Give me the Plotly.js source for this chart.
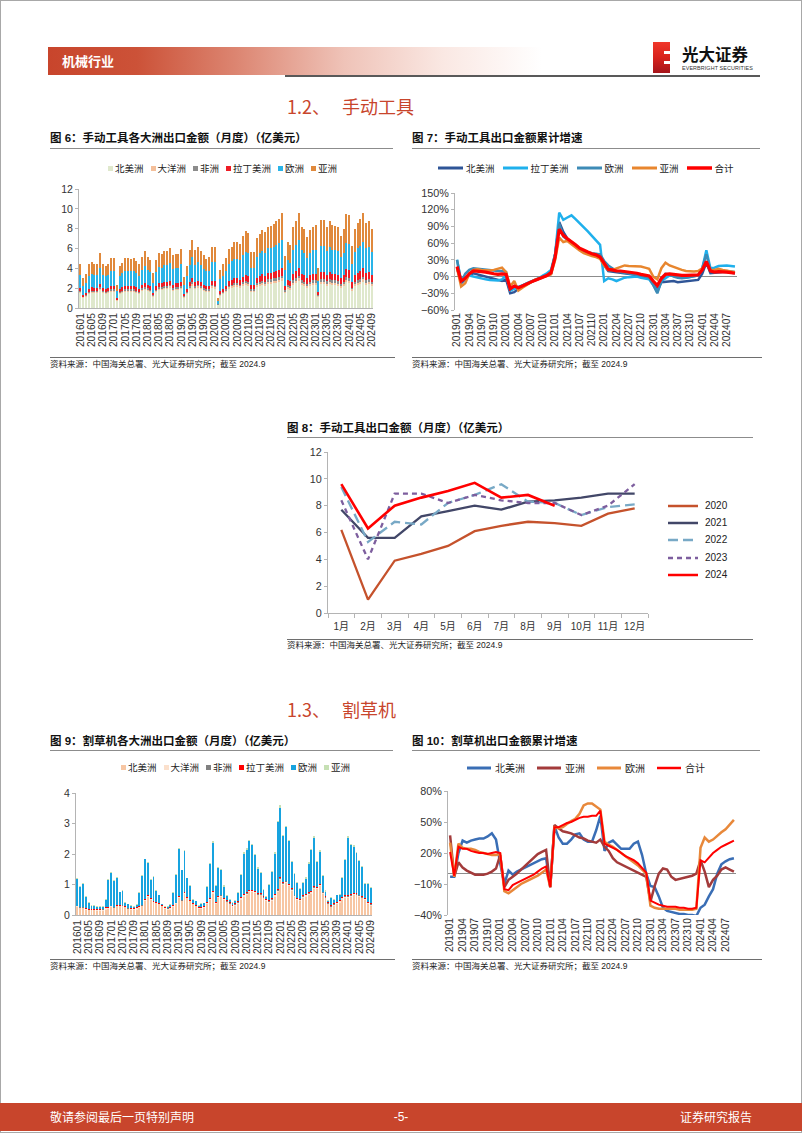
<!DOCTYPE html>
<html lang="zh-CN">
<head>
<meta charset="utf-8">
<title>机械行业</title>
<script src="https://cdn.plot.ly/plotly-3.0.1.min.js"></script>
<style>
html,body{margin:0;padding:0;background:#fff;}
#page{position:relative;width:802px;height:1133px;overflow:hidden;background:#fff;box-shadow:inset 0 0 0 1px #a8a8a8;font-family:'Liberation Sans','Noto Sans CJK SC',sans-serif;color:#222;}
.abs{position:absolute;}
.ttl{position:absolute;font-size:11.5px;font-weight:bold;white-space:nowrap;line-height:14px;color:#111;font-family:'Liberation Sans','Noto Sans CJK SC',sans-serif;}
.src{position:absolute;font-size:8.5px;white-space:nowrap;line-height:10px;color:#222;}
.hl{position:absolute;height:1px;background:#8c8c8c;}
.sl{position:absolute;height:1px;background:#6e6e6e;}
.sec{position:absolute;font-size:18px;color:#c8452c;white-space:nowrap;line-height:22px;font-family:'Noto Sans CJK SC',sans-serif;}
.leg{position:absolute;display:flex;align-items:center;white-space:nowrap;line-height:12px;color:#222;font-family:'Noto Sans CJK SC',sans-serif;}
.it{display:flex;align-items:center;}
.sq{display:inline-block;width:5px;height:5px;margin-right:2px;}
.chart{position:absolute;}
</style>
</head>
<body>
<div id="page">
  <!-- header -->
  <div class="abs" style="left:48px;top:47px;width:494px;height:28px;background:linear-gradient(90deg,#c8452c 0%,#cc5238 18%,#dc8571 38%,#efc3b8 60%,#fae8e3 80%,rgba(255,255,255,0) 100%);"></div>
  <div class="abs" style="left:62px;top:52px;font-size:13px;font-weight:bold;color:#fff;line-height:18px;font-family:'Noto Sans CJK SC',sans-serif;">机械行业</div>
  <div class="abs" style="left:285px;top:75px;width:475px;height:2px;background:#595959;"></div>
  <div class="abs" style="left:653px;top:42px;width:17px;height:31px;background:linear-gradient(180deg,#f0372a 0%,#d8231d 50%,#a5151b 100%);"></div>
  <div class="abs" style="left:664px;top:51px;width:6px;height:3px;background:#fff;"></div>
  <div class="abs" style="left:664px;top:61px;width:6px;height:3px;background:#fff;"></div>
  <div class="abs" style="left:682px;top:45px;font-size:16.5px;font-weight:bold;color:#111;line-height:19px;font-family:'Noto Sans CJK SC',sans-serif;">光大证券</div>
  <div class="abs" style="left:682px;top:65px;font-size:5.4px;color:#333;line-height:7px;letter-spacing:0.1px;">EVERBRIGHT SECURITIES</div>

  <!-- section 1.2 -->
  <div class="sec" style="left:287px;top:95px;">1.2、<span style="margin-left:12px;">手动工具</span></div>

  <!-- fig 6 -->
  <div class="ttl" style="left:50px;top:131px;">图 6：手动工具各大洲出口金额（月度）（亿美元）</div>
  <div class="hl" style="left:50px;top:148px;width:343px;"></div>
  <div class="leg" id="leg6" style="left:108px;top:162px;font-size:9.5px;"></div>
  <div class="chart" id="c6" style="left:40px;top:180px;width:345px;height:180px;"></div>
  <div class="sl" style="left:50px;top:357px;width:345px;"></div>
  <div class="src" style="left:50px;top:359px;">资料来源：中国海关总署、光大证券研究所；截至 2024.9</div>

  <!-- fig 7 -->
  <div class="ttl" style="left:412px;top:131px;">图 7：手动工具出口金额累计增速</div>
  <div class="hl" style="left:412px;top:148px;width:348px;"></div>
  <div class="leg" id="leg7" style="left:438px;top:162px;font-size:9.5px;"></div>
  <div class="chart" id="c7" style="left:405px;top:185px;width:360px;height:175px;"></div>
  <div class="sl" style="left:412px;top:357px;width:350px;"></div>
  <div class="src" style="left:412px;top:359px;">资料来源：中国海关总署、光大证券研究所；截至 2024.9</div>

  <!-- fig 8 -->
  <div class="ttl" style="left:287px;top:421px;">图 8：手动工具出口金额（月度）（亿美元）</div>
  <div class="hl" style="left:287px;top:437px;width:466px;"></div>
  <div class="chart" id="c8" style="left:285px;top:445px;width:380px;height:190px;"></div>
  <div class="leg" id="leg8" style="left:668px;top:497px;font-size:10px;flex-direction:column;align-items:flex-start;"></div>
  <div class="sl" style="left:287px;top:639px;width:466px;"></div>
  <div class="src" style="left:287px;top:640px;">资料来源：中国海关总署、光大证券研究所；截至 2024.9</div>

  <!-- section 1.3 -->
  <div class="sec" style="left:287px;top:698px;">1.3、<span style="margin-left:12px;">割草机</span></div>

  <!-- fig 9 -->
  <div class="ttl" style="left:50px;top:734px;">图 9：割草机各大洲出口金额（月度）（亿美元）</div>
  <div class="hl" style="left:50px;top:750px;width:343px;"></div>
  <div class="leg" id="leg9" style="left:121px;top:761px;font-size:9.5px;"></div>
  <div class="chart" id="c9" style="left:40px;top:785px;width:345px;height:175px;"></div>
  <div class="sl" style="left:50px;top:959px;width:345px;"></div>
  <div class="src" style="left:50px;top:961px;">资料来源：中国海关总署、光大证券研究所；截至 2024.9</div>

  <!-- fig 10 -->
  <div class="ttl" style="left:412px;top:734px;">图 10：割草机出口金额累计增速</div>
  <div class="hl" style="left:412px;top:750px;width:348px;"></div>
  <div class="leg" id="leg10" style="left:467px;top:762px;font-size:10px;"></div>
  <div class="chart" id="c10" style="left:405px;top:783px;width:360px;height:177px;"></div>
  <div class="sl" style="left:412px;top:959px;width:350px;"></div>
  <div class="src" style="left:412px;top:961px;">资料来源：中国海关总署、光大证券研究所；截至 2024.9</div>

  <!-- footer -->
  <div class="abs" style="left:0px;top:1103px;width:802px;height:28px;background:#c8452c;"></div>
  <div class="abs" style="left:50px;top:1109px;font-size:12px;color:#fff;line-height:16px;font-family:'Noto Sans CJK SC',sans-serif;">敬请参阅最后一页特别声明</div>
  <div class="abs" style="left:391px;top:1109px;width:20px;text-align:center;font-size:12px;color:#fff;line-height:16px;">-5-</div>
  <div class="abs" style="left:680px;top:1109px;width:72px;text-align:right;font-size:12px;color:#fff;line-height:16px;font-family:'Noto Sans CJK SC',sans-serif;">证券研究报告</div>
</div>

<script>
// ---------- categories & tick labels ----------
const months = [
'201601','201602','201603','201604','201605','201606','201607','201608','201609','201610','201611','201612',
'201701','201702','201703','201704','201705','201706','201707','201708','201709','201710','201711','201712',
'201801','201802','201803','201804','201805','201806','201807','201808','201809','201810','201811','201812',
'201901','201902','201903','201904','201905','201906','201907','201908','201909','201910','201911','201912',
'202001','202002','202003','202004','202005','202006','202007','202008','202009','202010','202011','202012',
'202101','202102','202103','202104','202105','202106','202107','202108','202109','202110','202111','202112',
'202201','202202','202203','202204','202205','202206','202207','202208','202209','202210','202211','202212',
'202301','202302','202303','202304','202305','202306','202307','202308','202309','202310','202311','202312',
'202401','202402','202403','202404','202405','202406','202407','202408','202409'];
const months19 = months.slice(36);
const ticks16 = ['201601','201605','201609','201701','201705','201709','201801','201805','201809','201901','201905','201909','202001','202005','202009','202101','202105','202109','202201','202205','202209','202301','202305','202309','202401','202405','202409'];
const ticks19 = ['201901','201904','201907','201910','202001','202004','202007','202010','202101','202104','202107','202110','202201','202204','202207','202210','202301','202304','202307','202310','202401','202404','202407'];
const monthNames = ['1月','2月','3月','4月','5月','6月','7月','8月','9月','10月','11月','12月'];

// ---------- Fig 6: hand tools monthly exports by continent (亿美元) ----------
const regions6 = ['北美洲','大洋洲','非洲','拉丁美洲','欧洲','亚洲'];
const na6 = [
1.5,1.0,1.1,1.4,1.5,1.5,1.5,1.8,1.5,1.4,1.5,1.6,
1.6,0.7,1.4,1.5,1.6,1.6,1.6,1.6,1.5,1.4,1.7,1.8,
1.7,1.6,1.1,1.6,1.8,1.8,1.9,1.9,2.0,1.7,1.8,1.8,
1.9,1.0,1.4,1.9,2.2,1.9,2.0,1.9,1.7,1.6,1.6,2.0,
1.9,0.3,1.2,1.4,1.6,1.9,2.0,2.1,2.1,2.0,2.2,2.3,
2.2,1.6,1.6,2.1,2.2,2.3,2.2,2.4,2.4,2.5,2.5,2.6,
2.7,1.5,1.9,1.8,2.3,2.5,2.7,2.3,2.2,2.0,2.2,2.3,
2.3,1.1,2.4,2.4,2.2,2.4,2.3,2.3,2.2,2.0,2.2,2.6,
2.5,1.7,2.2,2.3,2.4,2.6,2.3,2.4,2.2];
const oc6 = [
.12,.08,.1,.12,.13,.12,.12,.14,.12,.12,.13,.14,
.14,.06,.12,.13,.14,.14,.14,.14,.13,.12,.14,.16,
.14,.13,.1,.13,.15,.15,.16,.16,.17,.15,.15,.15,
.16,.09,.12,.16,.19,.16,.17,.16,.15,.14,.14,.17,
.17,.03,.1,.12,.14,.17,.18,.19,.19,.18,.2,.22,
.22,.16,.16,.2,.22,.23,.22,.24,.24,.25,.26,.26,
.28,.15,.2,.19,.24,.26,.28,.24,.23,.21,.23,.24,
.24,.12,.26,.26,.24,.25,.24,.24,.24,.21,.23,.27,
.27,.18,.23,.25,.26,.28,.25,.25,.23];
const af6 = [
.12,.08,.1,.12,.12,.12,.12,.14,.12,.11,.12,.14,
.14,.06,.12,.13,.14,.14,.14,.14,.13,.12,.14,.16,
.14,.13,.1,.13,.15,.15,.16,.16,.17,.15,.15,.15,
.16,.09,.12,.16,.19,.16,.17,.16,.15,.14,.14,.17,
.17,.03,.1,.12,.14,.17,.18,.19,.19,.18,.2,.22,
.22,.16,.16,.2,.22,.23,.22,.24,.24,.25,.26,.26,
.28,.15,.2,.19,.24,.26,.28,.24,.23,.21,.23,.24,
.24,.12,.26,.26,.24,.25,.24,.24,.24,.21,.23,.27,
.27,.18,.23,.25,.26,.28,.25,.25,.23];
const la6 = [
.3,.2,.25,.3,.32,.3,.3,.38,.3,.28,.3,.35,
.35,.15,.3,.32,.36,.35,.35,.35,.33,.3,.36,.4,
.36,.34,.25,.34,.4,.38,.4,.4,.43,.37,.38,.38,
.4,.22,.3,.4,.48,.4,.43,.4,.37,.34,.36,.43,
.45,.07,.28,.32,.36,.44,.46,.5,.5,.48,.54,.58,
.6,.45,.45,.57,.6,.63,.62,.66,.66,.68,.7,.72,
.75,.42,.53,.5,.65,.7,.76,.65,.63,.57,.62,.65,
.66,.32,.7,.7,.65,.7,.66,.66,.65,.58,.63,.75,
.8,.55,.7,.75,.78,.84,.75,.77,.7];
const eu6 = [
1.3,0.9,1.0,1.3,1.4,1.3,1.3,1.6,1.3,1.3,1.3,1.5,
1.5,0.7,1.3,1.4,1.5,1.5,1.5,1.5,1.4,1.3,1.5,1.7,
1.5,1.4,1.0,1.4,1.6,1.6,1.7,1.7,1.8,1.6,1.6,1.6,
1.8,0.9,1.3,1.7,2.1,1.7,1.9,1.7,1.6,1.5,1.5,1.9,
1.9,0.3,1.2,1.3,1.5,1.8,1.9,2.0,2.0,2.0,2.2,2.3,
2.3,1.7,1.7,2.1,2.3,2.4,2.3,2.5,2.5,2.5,2.6,2.7,
2.8,1.6,2.0,1.9,2.4,2.6,2.8,2.4,2.3,2.1,2.3,2.4,
2.4,1.1,2.6,2.6,2.4,2.6,2.4,2.4,2.4,2.1,2.3,2.7,
2.6,1.8,2.3,2.5,2.6,2.7,2.5,2.5,2.3];
const as6 = [
1.06,0.74,0.85,1.16,1.13,1.06,1.06,1.44,1.06,0.99,1.05,1.27,
1.27,0.63,0.96,1.02,1.26,1.27,1.17,1.27,1.21,1.16,1.26,1.48,
1.26,1.2,0.95,1.2,1.4,1.32,1.38,1.38,1.53,1.33,1.32,1.32,
1.48,0.8,0.96,1.48,1.74,1.48,1.53,1.38,1.33,1.18,1.36,1.53,
1.61,0.27,0.92,1.14,1.26,1.52,1.48,1.72,1.72,1.66,1.96,2.18,
2.06,1.53,1.53,1.93,1.96,2.11,2.14,2.16,2.26,2.32,2.48,2.46,
2.79,1.38,1.87,1.82,2.37,2.48,2.78,2.37,2.41,2.11,2.32,2.37,
2.56,1.24,2.68,2.68,2.47,2.6,2.56,2.46,2.47,2.2,2.41,2.91,
2.96,1.89,2.34,2.55,2.7,2.9,2.55,2.63,2.34];
const colors6 = ['#dfe8cc','#f4bf9a','#8c8c8c','#ee1c25','#29b4e8','#e0893c'];

// ---------- Fig 7: hand tools cumulative export growth (%) ----------
const series7 = ['北美洲','拉丁美洲','欧洲','亚洲','合计'];
const na7 = [15,-12,-5,2,6,4,3,1,-1,-3,-5,-8,
-5,-30,-28,-22,-18,-14,-10,-7,-4,-1,2,5,
40,98,80,68,62,56,50,45,42,40,38,34,
20,10,9,8,8,7,6,5,3,1,-1,-2,
-12,-25,-10,-9,-8,-8,-10,-9,-9,-8,-7,-6,
5,25,6,7,8,8,8,7,6];
const la7 = [30,-8,-3,2,0,-2,-3,-5,-6,-6,-7,-5,
2,-25,-22,-20,-16,-12,-9,-6,-3,2,6,12,
40,115,102,106,110,103,96,89,81,73,65,57,
-8,-3,-5,-8,-5,-2,-1,0,0,-2,-3,-5,
-15,-28,-8,-3,2,3,1,-1,-2,-1,0,2,
15,47,15,16,19,20,20,19,18];
const eu7 = [30,-10,5,12,15,14,13,12,11,10,10,10,
8,-22,-18,-19,-16,-13,-9,-6,-3,0,3,8,
40,95,72,66,60,54,49,45,43,42,41,40,
28,20,15,10,8,7,6,5,3,2,0,-2,
-15,-30,-8,5,4,0,-2,-3,-2,-1,0,2,
15,40,12,8,9,10,10,9,8];
const as7 = [15,-18,-12,5,12,13,12,11,11,12,14,16,
8,-18,-8,-25,-20,-15,-10,-6,-4,-1,1,4,
30,70,62,64,58,52,47,42,39,37,35,32,
20,12,12,15,18,20,19,19,19,18,16,14,
0,-5,15,25,20,17,14,12,10,9,9,10,
15,25,12,12,14,12,11,9,8];
const tot7 = [18,-8,-3,5,10,10,9,8,6,5,4,5,
4,-22,-17,-20,-17,-13,-10,-7,-4,-1,2,7,
35,85,74,68,63,57,51,47,44,41,39,35,
25,13,12,10,10,9,9,8,6,4,2,1,
-8,-16,-3,4,5,4,2,2,2,2,2,3,
12,27,10,8,9,9,8,7,6];
const colors7 = ['#2f5597','#1fb0ec','#3d8bb6','#e8862e','#ff0000'];
const widths7 = [2.5,2.5,2.5,2.5,3.2];

// ---------- Fig 8: hand tools monthly exports by year (亿美元) ----------
const years8 = ['2020','2021','2022','2023','2024'];
const y2020 = [6.2,1.0,3.9,4.4,5.0,6.1,6.5,6.8,6.7,6.5,7.4,7.8];
const y2021 = [7.7,5.6,5.6,7.2,7.6,8.0,7.7,8.3,8.4,8.6,8.9,8.9];
const y2022 = [9.4,5.3,6.8,6.6,8.2,8.8,9.6,8.3,8.2,7.3,7.9,8.1];
const y2023 = [8.4,4.0,8.9,8.9,8.2,8.8,8.4,8.2,8.2,7.3,8.0,9.6];
const y2024 = [9.6,6.3,8.0,8.6,9.1,9.7,8.6,8.8,8.0];
const colors8 = ['#c5522c','#424768','#78a9c6','#7d5e9e','#ff0000'];
const dash8 = ['solid','solid','10px,5px','5px,4px','solid'];

// ---------- Fig 9: lawn mower monthly exports by continent (亿美元) ----------
const regions9 = ['北美洲','大洋洲','非洲','拉丁美洲','欧洲','亚洲'];
const na9 = [
.25,.22,.22,.18,.16,.15,.15,.14,.14,.14,.18,.2,
.25,.22,.28,.28,.3,.25,.2,.18,.16,.18,.22,.28,
.45,.6,.5,.42,.38,.35,.28,.2,.18,.18,.25,.35,
.55,.45,.7,.55,.45,.35,.28,.2,.2,.22,.35,.5,
.7,.35,.55,.6,.5,.42,.35,.25,.3,.35,.5,.6,
.65,.75,.75,.72,.65,.65,.55,.45,.4,.45,.6,.75,
1.15,1.0,1.05,.95,.8,.6,.5,.45,.55,.6,.65,.7,
.85,.85,.95,.7,.55,.35,.25,.3,.35,.4,.5,.55,
.55,.6,.65,.65,.6,.55,.5,.35,.3];
const oc9 = [
.03,.02,.02,.01,.01,.01,.01,.02,.03,.04,.04,.03,
.03,.02,.02,.01,.01,.01,.01,.02,.03,.04,.04,.03,
.03,.02,.02,.01,.01,.01,.01,.02,.03,.04,.04,.03,
.03,.02,.02,.01,.01,.01,.01,.02,.03,.04,.04,.03,
.04,.03,.03,.02,.02,.02,.02,.03,.04,.05,.05,.04,
.04,.03,.03,.02,.02,.02,.02,.03,.04,.05,.05,.04,
.04,.03,.03,.02,.02,.02,.02,.03,.04,.05,.05,.04,
.04,.03,.03,.02,.02,.02,.02,.03,.04,.05,.05,.04,
.04,.03,.03,.02,.02,.02,.02,.03,.04];
const af9 = [
.01,.01,.01,.01,.01,.01,.01,.01,.01,.01,.01,.01,
.01,.01,.01,.01,.01,.01,.01,.01,.01,.01,.01,.01,
.01,.01,.01,.01,.01,.01,.01,.01,.01,.01,.01,.01,
.01,.01,.01,.01,.01,.01,.01,.01,.01,.01,.01,.01,
.02,.02,.02,.02,.02,.02,.02,.02,.02,.02,.02,.02,
.02,.02,.02,.02,.02,.02,.02,.02,.02,.02,.02,.02,
.02,.02,.02,.02,.02,.02,.02,.02,.02,.02,.02,.02,
.02,.02,.02,.02,.02,.02,.02,.02,.02,.02,.02,.02,
.02,.02,.02,.02,.02,.02,.02,.02,.02];
const la9 = [
.02,.02,.02,.02,.02,.02,.02,.02,.02,.02,.02,.02,
.02,.02,.02,.02,.02,.02,.02,.02,.02,.02,.02,.02,
.02,.02,.02,.02,.02,.02,.02,.02,.02,.02,.02,.02,
.02,.02,.02,.02,.02,.02,.02,.02,.02,.02,.02,.02,
.03,.03,.03,.03,.03,.03,.03,.03,.03,.03,.03,.03,
.03,.03,.03,.03,.03,.03,.03,.03,.03,.03,.03,.03,
.03,.03,.03,.03,.03,.03,.03,.03,.03,.03,.03,.03,
.03,.03,.03,.03,.03,.03,.03,.03,.03,.03,.03,.03,
.03,.03,.03,.03,.03,.03,.03,.03,.03];
const eu9 = [
.86,.64,.74,.38,.2,.11,.11,.07,.07,.05,.23,.89,
1.08,.84,.88,.43,.46,.11,.11,.08,.05,.08,.44,.93,
1.31,1.06,.61,.79,.38,.26,.03,.01,.03,.08,.41,.91,
1.56,.96,1.36,.61,.46,.11,.13,.06,.11,.09,.51,1.11,
1.56,.51,.91,.81,.36,.14,.06,.06,.06,.26,.71,1.31,
1.4,1.58,1.45,1.18,.8,.65,.2,.05,.5,.85,1.3,2.2,
2.26,1.5,1.75,1.41,.86,.67,.47,.31,.41,.49,.93,1.34,
1.6,.8,1.05,.5,.15,.05,.25,.1,.2,.15,.6,1.15,
1.9,1.6,1.5,1.3,1.1,.95,.45,.6,.5];
const as9 = [
.03,.03,.03,.02,.02,.02,.02,.02,.02,.02,.03,.03,
.03,.03,.03,.02,.02,.02,.02,.02,.02,.02,.03,.03,
.03,.03,.03,.02,.02,.02,.02,.02,.02,.02,.03,.03,
.03,.03,.03,.02,.02,.02,.02,.02,.02,.02,.03,.03,
.06,.05,.05,.04,.04,.03,.03,.03,.03,.04,.05,.05,
.06,.05,.05,.04,.04,.03,.03,.03,.03,.04,.05,.05,
.1,.05,.05,.04,.04,.03,.03,.03,.03,.04,.05,.05,
.06,.05,.05,.04,.04,.03,.03,.03,.03,.04,.05,.05,
.06,.05,.05,.04,.04,.03,.03,.03,.03];
const colors9 = ['#f7c6a3','#fbe0cc','#808080','#ff0000','#17a3df','#c6e0b4'];

// ---------- Fig 10: lawn mower cumulative export growth (%) ----------
const series10 = ['北美洲','亚洲','欧洲','合计'];
const na10 = [-3,-3,20,32,30,32,33,34,34,36,39,33,
10,-10,3,-1,2,4,6,8,10,12,14,15,
-13,46,35,29,29,33,38,39,33,31,31,42,
56,22,30,32,28,24,24,24,29,31,18,0,
-12,-13,-22,-33,-36,-37,-38,-39,-39,-40,-40,-41,
-33,-30,-22,-15,0,9,12,14,15];
const as10 = [37,-3,11,6,3,1,-1,-1,-1,0,2,5,
18,-13,-6,-3,0,4,8,12,16,19,21,23,
-13,47,44,41,40,39,37,35,34,32,31,30,
33,26,22,15,11,9,7,5,3,1,-1,-3,
-27,-12,0,5,4,-3,-6,-5,-4,-3,-2,0,
13,2,-13,-6,-2,4,6,4,2];
const eu10 = [30,-3,29,25,24,24,23,21,20,19,18,18,
19,-17,-19,-16,-13,-10,-8,-6,-4,-2,1,4,
-13,45,44,45,48,51,53,58,66,68,68,65,
62,31,28,26,23,20,17,14,11,8,4,0,
-31,-33,-34,-34,-34,-34,-34,-35,-35,-35,-35,-34,
25,35,31,33,37,40,43,47,52];
const tot10 = [21,-2,26,24,24,22,21,20,20,19,20,21,
20,-15,-16,-11,-9,-7,-5,-3,-1,2,5,7,
-13,45,45,47,49,50,52,54,55,55,56,56,
61,29,27,25,23,20,17,15,13,10,6,1,
-26,-28,-30,-31,-32,-32,-32,-33,-33,-34,-34,-33,
13,11,16,20,23,26,28,30,32];
const colors10 = ['#3a6eb5','#a33b3b','#e8883a','#ff0000'];
const widths10 = [2.5,2.5,2.5,2];

// ---------- helpers ----------
const FONT = "'Liberation Sans', 'Noto Sans CJK SC', sans-serif";
const AX = '#b4b4b4';
const cfg = {staticPlot:true, displayModeBar:false, responsive:false};

function base(w,h,m){
  return {width:w,height:h,margin:m,paper_bgcolor:'rgba(0,0,0,0)',plot_bgcolor:'rgba(0,0,0,0)',
    showlegend:false,font:{family:FONT,size:10,color:'#333'}};
}
function yax(extra){
  return Object.assign({showline:true,linecolor:AX,linewidth:1,ticks:'outside',ticklen:3,tickcolor:AX,
    showgrid:false,zeroline:false,tickfont:{size:10.5,color:'#333'},fixedrange:true},extra);
}

// Fig 6
(function(){
  const ys=[na6,oc6,af6,la6,eu6,as6];
  const traces=ys.map((y,i)=>({type:'bar',x:months,y:y,name:regions6[i],marker:{color:colors6[i],line:{width:0}}}));
  const L=base(345,180,{l:39,r:12,t:9,b:52,pad:0});
  L.barmode='stack'; L.bargap=0.32;
  L.xaxis={type:'category',categoryorder:'array',categoryarray:months,tickvals:ticks16,ticktext:ticks16,tickangle:-90,
    tickfont:{size:10.2,color:'#333'},showline:true,linecolor:AX,ticks:'',showgrid:false,range:[-0.5,104.5]};
  L.yaxis=yax({range:[0,12],dtick:2,tick0:0});
  Plotly.newPlot('c6',traces,L,cfg);
})();

// Fig 7
(function(){
  const ys=[na7,la7,eu7,as7,tot7];
  const traces=ys.map((y,i)=>({type:'scatter',mode:'lines',x:months19,y:y,name:series7[i],
    line:{color:colors7[i],width:widths7[i]}}));
  const L=base(360,175,{l:50,r:28,t:8,b:50,pad:0});
  L.xaxis={type:'category',categoryorder:'array',categoryarray:months19,tickvals:ticks19,ticktext:ticks19,tickangle:-90,
    tickfont:{size:10.2,color:'#333'},showline:false,ticks:'',showgrid:false,zeroline:false,range:[-0.5,68.5]};
  L.yaxis=yax({range:[-60,150],dtick:30,tick0:0,ticksuffix:'%',zeroline:true,zerolinecolor:'#8c8c8c',zerolinewidth:1,tickfont:{size:10.8,color:'#333'}});
  Plotly.newPlot('c7',traces,L,cfg);
})();

// Fig 8
(function(){
  const ys=[y2020,y2021,y2022,y2023,y2024];
  const traces=ys.map((y,i)=>({type:'scatter',mode:'lines',x:monthNames.slice(0,y.length),y:y,name:years8[i],
    line:{color:colors8[i],width:(i===4?2.6:2.3),dash:dash8[i]}}));
  const L=base(380,190,{l:43,r:17,t:7,b:22,pad:0});
  L.xaxis={type:'category',categoryorder:'array',categoryarray:monthNames,showline:true,linecolor:AX,ticks:'outside',
    tickson:'boundaries',ticklen:4,tickcolor:AX,tickangle:0,ticklabelstandoff:4,tickfont:{size:10,color:'#333'},showgrid:false,range:[-0.5,11.5]};
  L.yaxis=yax({range:[0,12],dtick:2,tick0:0,tickfont:{size:10.8,color:'#333'}});
  Plotly.newPlot('c8',traces,L,cfg);
})();

// Fig 9
(function(){
  const ys=[na9,oc9,af9,la9,eu9,as9];
  const traces=ys.map((y,i)=>({type:'bar',x:months,y:y,name:regions9[i],marker:{color:colors9[i],line:{width:0}}}));
  const L=base(345,175,{l:36,r:13,t:8,b:45,pad:0});
  L.barmode='stack'; L.bargap=0.32;
  L.xaxis={type:'category',categoryorder:'array',categoryarray:months,tickvals:ticks16,ticktext:ticks16,tickangle:-90,
    tickfont:{size:10.2,color:'#333'},showline:true,linecolor:AX,ticks:'',showgrid:false,range:[-0.5,104.5]};
  L.yaxis=yax({range:[0,4],dtick:1,tick0:0});
  Plotly.newPlot('c9',traces,L,cfg);
})();

// Fig 10
(function(){
  const ys=[na10,as10,eu10,tot10];
  const traces=ys.map((y,i)=>({type:'scatter',mode:'lines',x:months19,y:y,name:series10[i],
    line:{color:colors10[i],width:widths10[i]}}));
  const L=base(360,177,{l:43,r:29,t:8,b:45,pad:0});
  L.xaxis={type:'category',categoryorder:'array',categoryarray:months19,tickvals:ticks19,ticktext:ticks19,tickangle:-90,
    tickfont:{size:10.2,color:'#333'},showline:false,ticks:'',showgrid:false,zeroline:false,range:[-0.5,68.5]};
  L.yaxis=yax({range:[-40,80],dtick:30,tick0:-40,ticksuffix:'%',zeroline:true,zerolinecolor:'#8c8c8c',zerolinewidth:1,tickfont:{size:10.8,color:'#333'}});
  Plotly.newPlot('c10',traces,L,cfg);
})();

// ---------- legends (HTML) ----------
function sqLegend(id,names,colors,gap){
  const el=document.getElementById(id);
  names.forEach((n,i)=>{
    const it=document.createElement('span'); it.className='it';
    if(i<names.length-1) it.style.marginRight=gap+'px';
    it.innerHTML='<span class="sq" style="background:'+colors[i]+'"></span><span>'+n+'</span>';
    el.appendChild(it);
  });
}
function lineSvg(color,w,len,dash){
  return '<svg width="'+len+'" height="10" style="display:block"><line x1="0" y1="5" x2="'+len+'" y2="5" stroke="'+color+'" stroke-width="'+w+'"'+(dash?' stroke-dasharray="'+dash+'"':'')+'/></svg>';
}
function lineLegend(id,names,colors,widths,len,tgap,gap){
  const el=document.getElementById(id);
  names.forEach((n,i)=>{
    const it=document.createElement('span'); it.className='it';
    if(i<names.length-1) it.style.marginRight=gap+'px';
    it.innerHTML='<span style="margin-right:'+tgap+'px">'+lineSvg(colors[i],widths[i],len,null)+'</span><span>'+n+'</span>';
    el.appendChild(it);
  });
}
sqLegend('leg6',regions6,colors6,7);
sqLegend('leg9',regions9,colors9,7);
lineLegend('leg7',series7,colors7,[3,3,3,3,3.5],25,3,8);
lineLegend('leg10',series10,colors10,[3,3,3,2.5],24,4,12);
(function(){
  const el=document.getElementById('leg8');
  const dashes=[null,null,'10,5','5,4',null];
  years8.forEach((n,i)=>{
    const it=document.createElement('span'); it.className='it';
    it.style.height='17.3px';
    it.innerHTML='<span style="margin-right:7px">'+lineSvg(colors8[i],2.5,30,dashes[i])+'</span><span style="font-family:\'Liberation Sans\',sans-serif">'+n+'</span>';
    el.appendChild(it);
  });
})();
</script>
</body>
</html>
